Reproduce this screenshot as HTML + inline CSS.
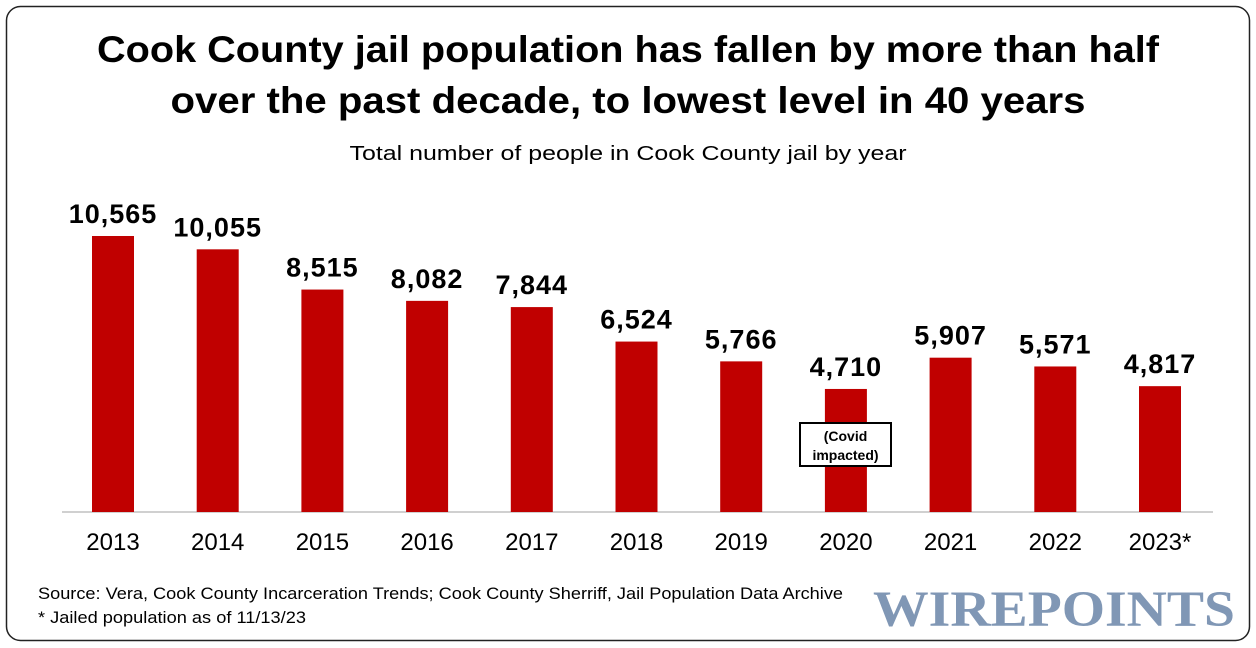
<!DOCTYPE html>
<html><head><meta charset="utf-8"><style>
body{margin:0;background:#fff;}
svg{display:block;font-family:"Liberation Sans",sans-serif;}
</style></head><body>
<svg id="chart" width="1256" height="648" viewBox="0 0 1256 648">
<rect x="6.5" y="6.5" width="1243" height="634" rx="14" fill="#fff" stroke="#222" stroke-width="1.5"/>
<text x="628" y="62" text-anchor="middle" font-size="37" font-weight="bold" fill="#000" textLength="1062" lengthAdjust="spacingAndGlyphs">Cook County jail population has fallen by more than half</text>
<text x="628" y="113" text-anchor="middle" font-size="37" font-weight="bold" fill="#000" textLength="915" lengthAdjust="spacingAndGlyphs">over the past decade, to lowest level in 40 years</text>
<text x="628" y="160" text-anchor="middle" font-size="20" fill="#000" textLength="557" lengthAdjust="spacingAndGlyphs">Total number of people in Cook County jail by year</text>
<line x1="62" y1="512" x2="1213" y2="512" stroke="#d0d0d0" stroke-width="2"/>
<g id="bars"></g>
<rect x="800" y="423" width="91" height="43" fill="#fff" stroke="#000" stroke-width="2"/>
<text x="845.5" y="441" text-anchor="middle" font-size="14" font-weight="bold">(Covid</text>
<text x="845.5" y="460" text-anchor="middle" font-size="14" font-weight="bold">impacted)</text>
<text x="38" y="599" font-size="17" fill="#000" textLength="805" lengthAdjust="spacingAndGlyphs">Source: Vera, Cook County Incarceration Trends; Cook County Sherriff, Jail Population Data Archive</text>
<text x="38" y="623" font-size="17" fill="#000" textLength="268" lengthAdjust="spacingAndGlyphs">* Jailed population as of 11/13/23</text>
<text x="1054" y="626" text-anchor="middle" font-family="'Liberation Serif',serif" font-weight="bold" font-size="51" fill="#8097b5" textLength="362" lengthAdjust="spacingAndGlyphs">WIREPOINTS</text>
</svg>
<script>
const categories=["2013","2014","2015","2016","2017","2018","2019","2020","2021","2022","2023*"];
const values=[10565,10055,8515,8082,7844,6524,5766,4710,5907,5571,4817];
const valueLabels=["10,565","10,055","8,515","8,082","7,844","6,524","5,766","4,710","5,907","5,571","4,817"];
const NS="http://www.w3.org/2000/svg";
const baseY=512, scale=276/10565;
function xPos(i){return 113+i*104.7;}
function yPos(v){return baseY-v*scale;}
const g=document.getElementById('bars');
categories.forEach((c,i)=>{
  const cx=xPos(i), y=yPos(values[i]);
  const r=document.createElementNS(NS,'rect');
  r.setAttribute('x',cx-21);r.setAttribute('y',y);r.setAttribute('width',42);r.setAttribute('height',baseY-y);r.setAttribute('fill','#c00000');
  
  
  g.appendChild(r);
  const t=document.createElementNS(NS,'text');
  t.setAttribute('x',cx);t.setAttribute('y',y-13);t.setAttribute('text-anchor','middle');t.setAttribute('font-size','27');t.setAttribute('font-weight','bold');t.setAttribute('letter-spacing','1');
  t.textContent=valueLabels[i];
  
  
  g.appendChild(t);
  const l=document.createElementNS(NS,'text');
  l.setAttribute('x',cx);l.setAttribute('y',550);l.setAttribute('text-anchor','middle');l.setAttribute('font-size','24');
  l.textContent=c;
  
  
  g.appendChild(l);
});
</script>
</body></html>
